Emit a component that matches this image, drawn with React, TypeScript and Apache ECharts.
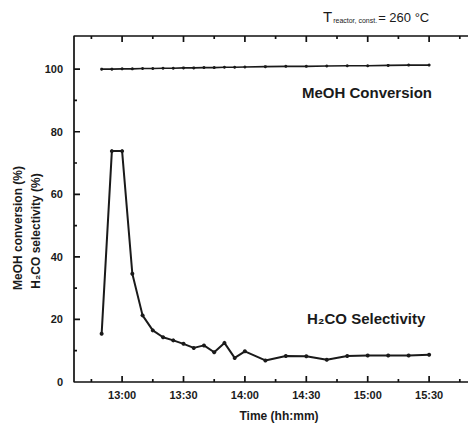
import React, { useEffect, useRef } from "react";
import * as echarts from "echarts";

// time in minutes after 12:00
const times = [50, 55, 60, 65, 70, 75, 80, 85, 90, 95, 100, 105, 110, 115, 120, 130, 140, 150, 160, 170, 180, 190, 200, 210];
const selectivity = [15.4, 73.8, 73.8, 34.6, 21.3, 16.5, 14.3, 13.3, 12.2, 10.9, 11.7, 9.5, 12.5, 7.7, 9.8, 6.9, 8.3, 8.2, 7.1, 8.3, 8.5, 8.5, 8.5, 8.7];
const conversion = [100.0, 100.0, 100.1, 100.1, 100.2, 100.2, 100.3, 100.3, 100.4, 100.4, 100.5, 100.5, 100.6, 100.6, 100.7, 100.8, 100.9, 100.9, 101.0, 101.1, 101.1, 101.2, 101.3, 101.3];

const xMajor = [60, 90, 120, 150, 180, 210];
const xMinor = [45, 75, 105, 135, 165, 195, 225];
const yMajor = [0, 20, 40, 60, 80, 100];
const yMinor = [10, 30, 50, 70, 90];

const X_MIN = 36.5;
const X_MAX = 229;
const Y_MIN = 0;
const Y_MAX = 110.6;

const FONT = "Liberation Sans, Arial, sans-serif";
const INK = "#1a1a1a";

function fmtTime(v: number): string {
  const h = 12 + Math.floor(v / 60);
  const m = Math.round(v % 60);
  return `${h}:${m < 10 ? "0" + m : m}`;
}

export default function App() {
  const ref = useRef<HTMLDivElement>(null);
  useEffect(() => {
    if (!ref.current) return;
    const chart = echarts.init(ref.current, undefined, { renderer: "svg" });
    const dataSeries: any[] = [
      {
        type: "line",
        data: times.map((t, i) => [t, conversion[i]]),
        symbol: "circle",
        symbolSize: 3,
        itemStyle: { color: INK },
        lineStyle: { color: INK, width: 1.6 },
      },
      {
        type: "line",
        data: times.map((t, i) => [t, selectivity[i]]),
        symbol: "circle",
        symbolSize: 4,
        itemStyle: { color: INK },
        lineStyle: { color: INK, width: 2 },
      },
    ];
    chart.setOption({
      animation: false,
      backgroundColor: "#ffffff",
      grid: { left: 74, right: 0, top: 36, bottom: 42, containLabel: false },
      xAxis: {
        type: "value",
        min: X_MIN,
        max: X_MAX,
        splitLine: { show: false },
        axisLine: { show: false, onZero: false },
        axisTick: { show: false },
        axisLabel: {
          show: true,
          customValues: xMajor,
          margin: 7,
          formatter: (v: number) => fmtTime(v),
          color: INK,
          fontFamily: FONT,
          fontWeight: "bold",
          fontSize: 11,
        },
      },
      yAxis: {
        type: "value",
        min: Y_MIN,
        max: Y_MAX,
        splitLine: { show: false },
        axisLine: { show: false, onZero: false },
        axisTick: { show: false },
        axisLabel: {
          show: true,
          customValues: yMajor,
          margin: 11,
          color: INK,
          fontFamily: FONT,
          fontWeight: "bold",
          fontSize: 11,
        },
      },
      series: dataSeries,
    });

    // frame and inward ticks, placed through the chart's own scales
    const P = (x: number, y: number) => chart.convertToPixel({ gridIndex: 0 }, [x, y]) as number[];
    const D = (p: number[]) => chart.convertFromPixel({ gridIndex: 0 }, p) as number[];
    const GAP = ["-", "-"];
    const framePts: any[] = [
      [X_MAX, Y_MAX], [X_MIN, Y_MAX], [X_MIN, Y_MIN], [X_MAX, Y_MIN], GAP,
    ];
    const addTick = (a: number[], pxEnd: number[]) => {
      framePts.push(a, D(pxEnd), GAP);
    };
    xMajor.forEach((v) => {
      const b = P(v, Y_MIN);
      const t = P(v, Y_MAX);
      addTick([v, Y_MIN], [b[0], b[1] - 6]);
      addTick([v, Y_MAX], [t[0], t[1] + 6]);
    });
    xMinor.forEach((v) => {
      const b = P(v, Y_MIN);
      const t = P(v, Y_MAX);
      addTick([v, Y_MIN], [b[0], b[1] - 3]);
      addTick([v, Y_MAX], [t[0], t[1] + 3]);
    });
    yMajor.forEach((v) => {
      const l = P(X_MIN, v);
      addTick([X_MIN, v], [l[0] + 6, l[1]]);
    });
    yMinor.forEach((v) => {
      const l = P(X_MIN, v);
      addTick([X_MIN, v], [l[0] + 3, l[1]]);
    });

    const texts: any[] = [
      {
        type: "text",
        x: 323,
        y: 9,
        style: {
          text: "{t|T}{s|reactor, const.}{e|= 260 °C}",
          fontFamily: FONT,
          fill: INK,
          rich: {
            t: { fontSize: 15, fontFamily: FONT, fill: INK, verticalAlign: "bottom" },
            s: { fontSize: 7, fontFamily: FONT, fill: INK, padding: [0, 1, 0, 1], verticalAlign: "bottom" },
            e: { fontSize: 13, fontFamily: FONT, fill: INK, verticalAlign: "bottom" },
          },
        },
      },
      {
        type: "text",
        x: 302,
        y: 92,
        style: { text: "MeOH Conversion", fontFamily: FONT, fontWeight: "bold", fontSize: 15, fill: INK, verticalAlign: "middle" },
      },
      {
        type: "text",
        x: 307,
        y: 318,
        style: { text: "H₂CO Selectivity", fontFamily: FONT, fontWeight: "bold", fontSize: 15, fill: INK, verticalAlign: "middle" },
      },
      {
        type: "text",
        x: 279,
        y: 416,
        style: { text: "Time (hh:mm)", fontFamily: FONT, fontWeight: "bold", fontSize: 12, fill: INK, align: "center", verticalAlign: "middle" },
      },
      {
        type: "text",
        x: 18,
        y: 228,
        rotation: Math.PI / 2,
        style: { text: "MeOH conversion (%)", fontFamily: FONT, fontWeight: "bold", fontSize: 12, fill: INK, align: "center", verticalAlign: "middle" },
      },
      {
        type: "text",
        x: 36,
        y: 231,
        rotation: Math.PI / 2,
        style: { text: "H₂CO selectivity (%)", fontFamily: FONT, fontWeight: "bold", fontSize: 12, fill: INK, align: "center", verticalAlign: "middle" },
      },
    ];

    chart.setOption({
      series: [
        ...dataSeries,
        {
          type: "line",
          data: framePts,
          symbol: "none",
          silent: true,
          clip: false,
          connectNulls: false,
          lineStyle: { color: "#111111", width: 1.7 },
          z: 1,
        },
      ],
      graphic: texts,
    });
    return () => chart.dispose();
  }, []);
  return (
    <div
      ref={ref}
      style={{ position: "fixed", left: 0, top: 0, width: 468, height: 424, background: "#fff" }}
    />
  );
}
